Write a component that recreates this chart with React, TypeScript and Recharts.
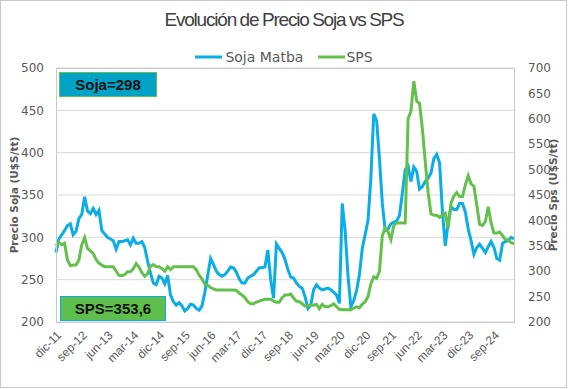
import React from "react";
import { LineChart, Line, XAxis, YAxis, CartesianGrid } from "recharts";

// meses en castellano, serie mensual desde dic-11
const MESES = ["ene", "feb", "mar", "abr", "may", "jun", "jul", "ago", "sep", "oct", "nov", "dic"];
const START_YEAR = 2011;
const START_MONTH = 11;

const soja = [
  282, 298, 303, 308, 314, 316, 303, 307, 322, 327, 348, 331, 328, 334, 327, 332, 308, 304, 300, 298,
  296, 286, 295, 295, 296, 297, 291, 299, 293, 293, 295, 288, 272, 258, 246, 244, 254, 252, 245, 255,
  232, 224, 220, 223, 219, 213, 216, 221, 220, 216, 214, 219, 235, 255, 275, 268, 260, 256, 254, 256,
  260, 265, 264, 259, 251, 246, 246, 252, 254, 256, 260, 264, 264, 265, 285, 250, 228, 292, 287, 282,
  274, 262, 253, 252, 246, 242, 240, 230, 216, 220, 238, 244, 240, 238, 239, 240, 238, 235, 232, 222,
  340, 308, 255, 218, 225, 237, 256, 287, 303, 320, 370, 446, 438, 393, 340, 308, 310, 316, 318, 319,
  326, 352, 380, 384, 366, 383, 378, 357, 360, 366, 370, 376, 393, 398, 388, 330, 290, 318, 336, 333,
  333, 340, 340, 330, 310, 296, 280, 288, 292, 287, 282, 289, 295, 288, 275, 273, 293, 295, 296, 300,
  298,
];

const sps = [
  350, 357, 352, 355, 322, 311, 312, 312, 322, 352, 366, 345, 340, 335, 323, 316, 312, 309, 309, 309,
  309, 300, 292, 291, 293, 299, 299, 305, 315, 308, 297, 290, 295, 310, 313, 309, 309, 305, 300, 309,
  303, 309, 309, 309, 309, 309, 309, 309, 309, 303, 292, 285, 274, 272, 268, 265, 263, 263, 263, 263,
  263, 263, 263, 262, 257, 253, 248, 240, 236, 236, 239, 241, 243, 245, 245, 245, 241, 239, 239, 248,
  253, 253, 255, 247, 241, 240, 236, 231, 232, 233, 233, 235, 226, 235, 230, 230, 232, 236, 230, 225,
  224, 224, 224, 224, 227, 230, 228, 235, 240, 250, 275, 289, 286, 300, 370, 385, 378, 362, 390, 395,
  395, 395, 395, 600, 615, 674, 635, 630, 580, 515, 455, 413, 410, 410, 406, 410, 414, 385, 434, 448,
  455, 447, 447, 470, 488, 472, 467, 430, 392, 390, 398, 427, 395, 375, 375, 377, 370, 362, 362, 356,
  354,
];

const leftTicks = [200, 250, 300, 350, 400, 450, 500];
const rightTicks = [200, 250, 300, 350, 400, 450, 500, 550, 600, 650, 700];

const meses = soja.map((_, i) => {
  const m = START_MONTH + i;
  const year = START_YEAR + Math.floor(m / 12);
  return `${MESES[m % 12]}-${String(year).slice(2)}`;
});

const data = meses.map((mes, i) => ({ mes, soja: soja[i], sps: sps[i] }));

const BLUE = "#0AADE6";
const GREEN = "#64C04C";
const GRAY = "#595959";

const App = () => {
  return (
    <div
      style={{
        position: "absolute",
        left: 0,
        top: 0,
        width: 568,
        height: 389,
        background: "#fff",
        fontFamily: "'DejaVu Sans', sans-serif",
      }}
    >
      <div
        style={{
          position: "absolute",
          left: 0,
          top: 0,
          width: 565,
          height: 386,
          border: "1px solid #c8c8c8",
        }}
      />
      {/* titulo */}
      <div
        style={{
          position: "absolute",
          left: 0,
          top: 9,
          width: 568,
          textAlign: "center",
          fontFamily: "'Liberation Sans', sans-serif",
          fontSize: 19,
          letterSpacing: -1.2,
          wordSpacing: -0.5,
          color: "#404040",
        }}
      >
        Evolución de Precio Soja vs SPS
      </div>
      {/* leyenda */}
      <div
        style={{
          position: "absolute",
          top: 48,
          left: 0,
          width: 568,
          display: "flex",
          justifyContent: "center",
          alignItems: "center",
          fontSize: 14,
          color: GRAY,
        }}
      >
        <svg width={27} height={18} style={{ marginRight: 3 }}>
          <line x1={0} y1={9} x2={27} y2={9} stroke={BLUE} strokeWidth={3} />
        </svg>
        <span style={{ marginRight: 15 }}>Soja Matba</span>
        <svg width={27} height={18} style={{ marginRight: 1 }}>
          <line x1={0} y1={9} x2={27} y2={9} stroke={GREEN} strokeWidth={3} />
        </svg>
        <span>SPS</span>
      </div>

      <LineChart
        width={568}
        height={389}
        data={data}
        margin={{ top: 68, right: 0, bottom: 0, left: 0 }}
        style={{ position: "absolute", left: 0, top: 0 }}
      >
        <CartesianGrid yAxisId="left" vertical={false} stroke="#d9d9d9" strokeWidth={1} />
        <XAxis
          dataKey="mes"
          interval={8}
          angle={-45}
          textAnchor="end"
          height={67}
          tickLine={false}
          axisLine={false}
          tick={{ fontSize: 12, fill: GRAY, fontFamily: "'Liberation Sans', sans-serif" }}
        />
        <YAxis
          yAxisId="left"
          domain={[200, 500]}
          ticks={leftTicks}
          width={56}
          tickLine={false}
          axisLine={false}
          tickMargin={6}
          tick={{ fontSize: 12, fill: GRAY }}
        />
        <YAxis
          yAxisId="right"
          orientation="right"
          domain={[200, 700]}
          ticks={rightTicks}
          width={54}
          tickLine={false}
          axisLine={false}
          tickMargin={8}
          tick={{ fontSize: 12, fill: GRAY }}
        />
        <Line
          yAxisId="left"
          type="linear"
          dataKey="soja"
          name="Soja Matba"
          stroke={BLUE}
          strokeWidth={3}
          dot={false}
          isAnimationActive={false}
        />
        <Line
          yAxisId="right"
          type="linear"
          dataKey="sps"
          name="SPS"
          stroke={GREEN}
          strokeWidth={3}
          dot={false}
          isAnimationActive={false}
        />
      </LineChart>

      {/* borde del area de trazado */}
      <div
        style={{
          position: "absolute",
          left: 56,
          top: 68,
          width: 457,
          height: 253,
          border: "1px solid #c8c8c8",
          pointerEvents: "none",
        }}
      />

      {/* titulos de ejes */}
      <div
        style={{
          position: "absolute",
          left: 14 - 100,
          top: 195 - 8,
          width: 200,
          height: 16,
          lineHeight: "16px",
          textAlign: "center",
          transform: "rotate(-90deg)",
          fontSize: 10.5,
          fontWeight: "bold",
          color: GRAY,
        }}
      >
        Precio Soja (U$S/tt)
      </div>
      <div
        style={{
          position: "absolute",
          left: 553 - 100,
          top: 195 - 8,
          width: 200,
          height: 16,
          lineHeight: "16px",
          textAlign: "center",
          transform: "rotate(-90deg)",
          fontSize: 10.5,
          fontWeight: "bold",
          color: GRAY,
        }}
      >
        Precio Sps (U$S/tt)
      </div>

      {/* cajas de ultimo valor */}
      <div
        style={{
          position: "absolute",
          left: 59,
          top: 72,
          width: 96,
          height: 23,
          background: "#00A2C6",
          border: "1px solid #64C04C",
          display: "flex",
          alignItems: "center",
          justifyContent: "center",
          fontFamily: "'Liberation Sans Narrow', 'Liberation Sans', sans-serif",
          fontWeight: "bold",
          fontSize: 15,
          color: "#111",
        }}
      >
        Soja=298
      </div>
      <div
        style={{
          position: "absolute",
          left: 60,
          top: 296,
          width: 104,
          height: 23,
          background: "#5FBF4C",
          border: "1px solid #0AADE6",
          display: "flex",
          alignItems: "center",
          justifyContent: "center",
          fontFamily: "'Liberation Sans Narrow', 'Liberation Sans', sans-serif",
          fontWeight: "bold",
          fontSize: 15,
          color: "#111",
        }}
      >
        SPS=353,6
      </div>
    </div>
  );
};

export default App;
